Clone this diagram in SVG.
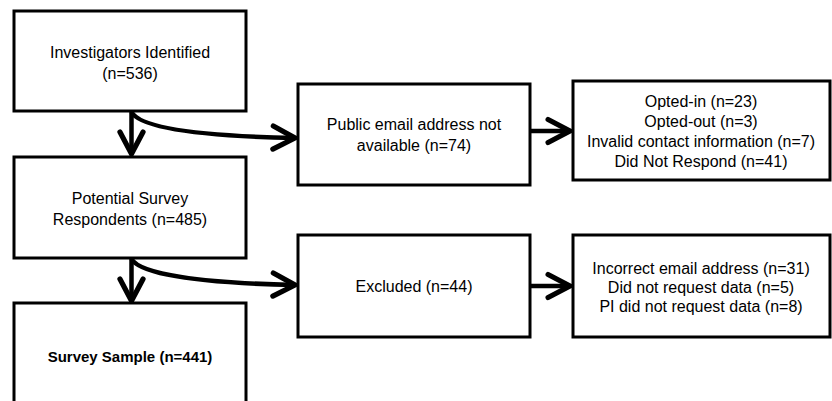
<svg xmlns="http://www.w3.org/2000/svg" width="832" height="401" viewBox="0 0 832 401">
<style>
.box{fill:#fff;stroke:#000;stroke-width:3}
.t{font-family:"Liberation Sans",Arial,sans-serif;font-size:16px;fill:#000;text-anchor:middle}
.b{font-weight:bold;font-size:15px}
.c{fill:none;stroke:#000;stroke-width:4.5}
</style>
<defs>
<marker id="ah" markerUnits="userSpaceOnUse" markerWidth="30" markerHeight="30" refX="0" refY="0" viewBox="-22 -13 26 26" orient="auto" overflow="visible">
<path d="M-19,-10 L0,0 L-19,10" fill="none" stroke="#000" stroke-width="4.5" stroke-linecap="round" stroke-linejoin="miter"/>
</marker>
</defs>
<rect width="832" height="401" fill="#fff"/>
<g id="connectors">
<path class="c" d="M131.5,112 L131.5,154" marker-end="url(#ah)"/>
<path class="c" d="M131.5,112 C140,128 200,136 295,138" marker-end="url(#ah)"/>
<path class="c" d="M530,131 L570,131" marker-end="url(#ah)"/>
<path class="c" d="M131.5,259 L131.5,301" marker-end="url(#ah)"/>
<path class="c" d="M131.5,259 C140,274 200,283 295,285" marker-end="url(#ah)"/>
<path class="c" d="M530,286 L570,286" marker-end="url(#ah)"/>
</g>
<g id="n1">
<rect class="box" x="14" y="11" width="232" height="100"/>
<text class="t" x="130" y="58">Investigators Identified</text>
<text class="t" x="130" y="79">(n=536)</text>
</g>
<g id="n2">
<rect class="box" x="14" y="157" width="232" height="101"/>
<text class="t" x="130" y="204">Potential Survey</text>
<text class="t" x="130" y="225">Respondents (n=485)</text>
</g>
<g id="n3">
<rect class="box" x="14" y="303" width="232" height="110"/>
<text class="t b" x="130" y="362">Survey Sample (n=441)</text>
</g>
<g id="n4">
<rect class="box" x="298" y="84" width="232" height="101"/>
<text class="t" x="414" y="130">Public email address not</text>
<text class="t" x="414" y="151">available (n=74)</text>
</g>
<g id="n5">
<rect class="box" x="573" y="81" width="257" height="99"/>
<text class="t" x="701" y="107">Opted-in (n=23)</text>
<text class="t" x="701" y="127">Opted-out (n=3)</text>
<text class="t" x="701" y="147">Invalid contact information (n=7)</text>
<text class="t" x="701" y="167">Did Not Respond (n=41)</text>
</g>
<g id="n6">
<rect class="box" x="298" y="235" width="232" height="102"/>
<text class="t" x="414" y="292">Excluded (n=44)</text>
</g>
<g id="n7">
<rect class="box" x="573" y="235" width="257" height="102"/>
<text class="t" x="701" y="274">Incorrect email address (n=31)</text>
<text class="t" x="701" y="293">Did not request data (n=5)</text>
<text class="t" x="701" y="312">PI did not request data (n=8)</text>
</g>
</svg>
